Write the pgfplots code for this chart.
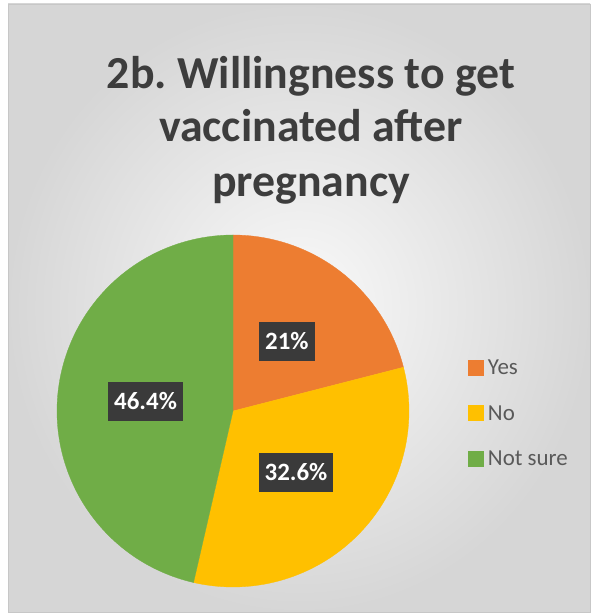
\documentclass[border=0pt]{standalone}
\usepackage{fontspec}
\setmainfont{Carlito}
\usepackage{pgfplots}
\usepackage{pgfplotstable}
\pgfplotsset{compat=1.18}
\definecolor{yesc}{HTML}{ED7D31}
\definecolor{noc}{HTML}{FFC000}
\definecolor{nsc}{HTML}{70AD47}
\definecolor{titlec}{HTML}{3D3D3D}
\definecolor{legc}{HTML}{595959}
\definecolor{lblbg}{HTML}{3A3A3A}

\pgfplotstableread{
label value
Yes 21
No 32.6
NotSure 46.4
}\piedata

\begin{document}
\begin{tikzpicture}
\pgfplotstablegetelem{0}{value}\of\piedata \let\vYes\pgfplotsretval
\pgfplotstablegetelem{1}{value}\of\piedata \let\vNo\pgfplotsretval
\pgfplotstablegetelem{2}{value}\of\piedata \let\vNS\pgfplotsretval
\pgfmathsetmacro{\aA}{90-3.6*\vYes}
\pgfmathsetmacro{\aB}{\aA-3.6*\vNo}
\pgfmathsetmacro{\aC}{\aB-3.6*\vNS}
\pgfmathsetmacro{\mA}{(90+\aA)/2}
\pgfmathsetmacro{\mB}{(\aA+\aB)/2}
\pgfmathsetmacro{\mC}{(\aB+\aC)/2}
\def\cx{233}\def\cy{205}\def\rr{176}
\begin{axis}[
  scale only axis, width=595bp, height=616bp,
  xmin=0, xmax=595, ymin=0, ymax=616,
  hide axis, clip=false,
  legend cell align=left,
  legend style={at={(axis cs:465,258)}, anchor=north west, draw=none, fill=none,
    font=\fontsize{23}{27}\selectfont, text=legc, row sep=29bp,
    nodes={inner ysep=0pt, inner xsep=4.5bp}},
  legend image code/.code={\fill[#1] (0bp,-7bp) rectangle (15bp,8bp);},
]
\fill[white] (axis cs:0,0) rectangle (axis cs:595,616);
\shade[inner color=black!2, outer color=black!16] (axis cs:8,4) rectangle (axis cs:590,612);
\draw[black!22, line width=0.6bp] (axis cs:8,4) rectangle (axis cs:590,612);

\node[anchor=base, text=titlec, font=\fontsize{46}{54}\selectfont\bfseries] at (axis cs:311,527) {2b.\ Willingness to get};
\node[anchor=base, text=titlec, font=\fontsize{46}{54}\selectfont\bfseries] at (axis cs:311,474) {vaccinated after};
\node[anchor=base, text=titlec, font=\fontsize{46}{54}\selectfont\bfseries] at (axis cs:311,419) {pregnancy};

\addplot[fill=yesc, draw=yesc, line width=0.3bp, domain=\aA:90, samples=90, variable=\t]
  ({\cx+\rr*cos(\t)}, {\cy+\rr*sin(\t)}) -- (axis cs:\cx,\cy) -- cycle;
\addlegendentry{Yes}
\addplot[fill=noc, draw=noc, line width=0.3bp, domain=\aB:\aA, samples=120, variable=\t]
  ({\cx+\rr*cos(\t)}, {\cy+\rr*sin(\t)}) -- (axis cs:\cx,\cy) -- cycle;
\addlegendentry{No}
\addplot[fill=nsc, draw=nsc, line width=0.3bp, domain=\aC:\aB, samples=160, variable=\t]
  ({\cx+\rr*cos(\t)}, {\cy+\rr*sin(\t)}) -- (axis cs:\cx,\cy) -- cycle;
\addlegendentry{Not sure}

\tikzset{lbl/.style={fill=lblbg, text=white, font=\fontsize{25}{29}\selectfont\bfseries,
  inner xsep=6bp, minimum height=39bp}}
\node[lbl] at (axis cs:{\cx+88*cos(\mA)},{\cy+88*sin(\mA)}) {\vYes\%};
\node[lbl] at (axis cs:{\cx+88*cos(\mB)},{\cy+88*sin(\mB)}) {\vNo\%};
\node[lbl] at (axis cs:{\cx+88*cos(\mC)},{\cy+88*sin(\mC)}) {\vNS\%};
\end{axis}
\end{tikzpicture}
\end{document}
